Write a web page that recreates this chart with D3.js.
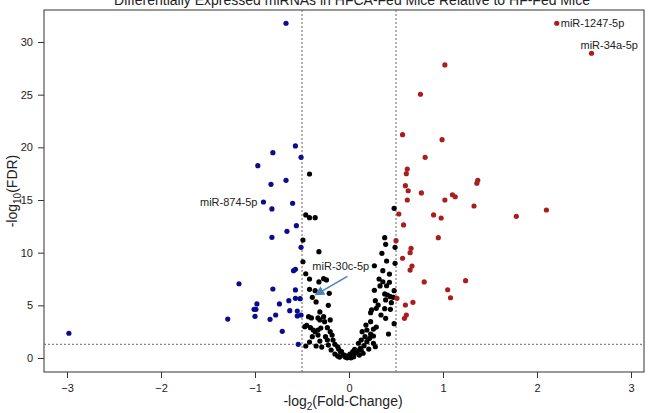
<!DOCTYPE html>
<html>
<head>
<meta charset="utf-8">
<script src="https://cdn.jsdelivr.net/npm/d3@7"></script>
<style>
  body { margin: 0; background: #fff; }
  svg { display: block; font-family: "Liberation Sans", Arial, sans-serif; }
</style>
</head>
<body>
<svg id="chart" width="656" height="413"></svg>
<script>
// [-log2 fold change, -log10 FDR]
const notSignificant = [
  [-0.42,17.47],[-0.46,13.58],[-0.42,13.32],[-0.36,13.32],[-0.49,11.20],[-0.32,10.09],[-0.49,9.14],
  [-0.46,8.00],[-0.42,7.50],[-0.32,7.22],[-0.27,7.53],[-0.24,7.41],[-0.42,6.52],[-0.36,6.39],
  [-0.21,6.14],[-0.39,5.76],[-0.35,5.32],[-0.22,5.00],[-0.31,4.37],[-0.27,3.92],[-0.33,3.80],
  [-0.40,3.80],[-0.43,3.92],[-0.31,3.61],[-0.26,3.45],[-0.20,3.61],[-0.47,2.97],[-0.45,3.10],
  [-0.41,2.88],[-0.38,2.66],[-0.36,2.50],[-0.33,2.66],[-0.30,2.85],[-0.23,2.88],[-0.20,2.50],
  [-0.39,2.02],[-0.33,2.18],[-0.25,2.02],[-0.18,2.18],[-0.23,1.71],[-0.17,1.71],[-0.31,1.61],
  [-0.42,1.52],[-0.46,1.14],[-0.35,1.14],[-0.15,1.30],[-0.29,1.04],[-0.22,1.23],[-0.12,1.07],
  [-0.19,0.76],[-0.11,0.85],[-0.15,0.38],[-0.09,0.57],[-0.12,0.19],[-0.06,0.28],[-0.04,0.09],
  [-0.02,0.02],[0.00,0.09],[0.02,0.02],[0.04,0.12],
  [0.48,14.21],[0.38,11.42],[0.39,10.79],[0.35,9.94],[0.49,10.51],[0.40,9.21],[0.49,8.99],
  [0.27,8.76],[0.36,8.29],[0.43,7.97],[0.32,7.50],[0.36,7.24],[0.43,7.19],[0.33,6.84],
  [0.40,6.86],[0.27,6.43],[0.48,6.39],[0.38,6.08],[0.41,5.98],[0.44,5.82],[0.47,5.76],
  [0.39,5.51],[0.28,5.44],[0.45,5.25],[0.38,4.68],[0.24,4.56],[0.29,4.72],[0.44,4.62],
  [0.23,4.30],[0.39,3.77],[0.23,3.45],[0.48,3.26],[0.29,2.94],[0.26,2.75],[0.14,2.50],
  [0.42,2.28],[0.23,2.28],[0.19,2.66],[0.17,2.02],[0.26,2.09],[0.22,1.87],[0.13,1.71],
  [0.19,1.55],[0.26,1.40],[0.10,1.40],[0.16,1.17],[0.28,1.07],[0.12,0.92],[0.06,0.83],
  [0.21,0.85],[0.15,0.45],[0.04,0.60],[0.01,0.38],[-0.02,0.19],[-0.08,0.60],[-0.05,0.28],
  [0.05,0.12],[-0.01,0.07],[0.31,5.03],[0.34,4.08],[0.18,3.13],[0.07,0.47],[0.11,0.28],
  [-0.10,0.09],[0.09,0.66],[0.13,0.76]
];

const downRegulated = [
  [-0.67,31.78],[-0.57,20.13],[-0.81,19.49],[-0.51,19.05],[-0.97,18.26],[-0.67,16.87],
  [-0.83,16.49],[-0.91,14.81],[-0.60,14.69],[-0.82,14.15],[-0.56,12.56],[-0.66,12.03],
  [-0.82,11.46],[-0.51,10.51],[-0.57,8.42],[-0.59,8.29],[-1.17,7.05],[-0.81,6.55],
  [-0.57,6.46],[-0.52,5.63],[-0.57,5.67],[-0.64,5.44],[-0.74,5.13],[-0.98,5.13],
  [-1.01,4.62],[-0.99,4.62],[-0.63,4.49],[-0.55,4.46],[-1.00,3.96],[-0.78,4.08],
  [-0.84,3.67],[-0.51,4.08],[-0.55,3.99],[-1.29,3.70],[-0.71,2.53],[-0.54,1.30],
  [-2.98,2.35]
];

const upRegulated = [
  [2.21,31.78],[2.58,28.93],[1.02,27.82],[0.76,25.04],[0.57,21.20],[0.99,20.73],
  [0.81,19.05],[0.62,17.94],[0.61,17.50],[0.60,16.36],[0.63,15.88],[0.77,15.67],
  [0.62,15.00],[1.10,15.50],[1.13,15.31],[1.33,14.43],[1.37,16.87],[1.36,16.59],
  [1.02,15.00],[1.78,13.45],[2.10,14.05],[0.53,13.67],[0.90,13.58],[0.98,13.29],
  [0.58,12.63],[0.95,11.42],[0.50,11.14],[0.66,10.41],[0.65,10.00],[0.57,9.47],
  [0.67,8.73],[0.65,8.35],[0.80,7.22],[1.24,7.34],[1.05,6.48],[1.08,5.72],
  [0.51,5.67],[0.68,5.29],[0.60,5.03],[0.61,4.08],[0.59,3.77]
];

const labelNames = ["miR-1247-5p", "miR-34a-5p", "miR-874-5p", "miR-30c-5p"];
const labelPoints = [[2.21,31.78],[2.58,28.93],[-0.91,14.81],[-0.39,5.76]];

const xTicks = [-3, -2, -1, 0, 1, 2, 3];
const yTicks = [0, 5, 10, 15, 20, 25, 30];
const foldCut = 0.5;
const fdrCut = 1.3;

const frame = {left: 44, right: 644, top: 10, bottom: 372};

const svg = d3.select('#chart');

const x = d3.scaleLinear().domain([-3, 3]).range([67, 631]);
const y = d3.scaleLinear().domain([0, 30]).range([358, 42]);

// title (runs off the top edge, as in the original)
svg.append('text')
    .attr('x', 352)
    .attr('y', 5)
    .attr('text-anchor', 'middle')
    .attr('font-size', 14)
    .attr('fill', '#222')
    .text('Differentially Expressed miRNAs in HFCA-Fed Mice Relative to HF-Fed Mice');

// axes
const xAxis = svg.append('g')
    .attr('transform', `translate(0,${frame.bottom})`)
    .call(d3.axisBottom(x).tickValues(xTicks).tickFormat(d3.format('d')).tickSize(6).tickPadding(6));
const yAxis = svg.append('g')
    .attr('transform', `translate(${frame.left},0)`)
    .call(d3.axisLeft(y).tickValues(yTicks).tickFormat(d3.format('d')).tickSize(6).tickPadding(5));

[xAxis, yAxis].forEach(g => {
  g.select('.domain').remove();
  g.selectAll('line').attr('stroke', '#333');
  g.selectAll('text').attr('font-size', 11).attr('fill', '#222')
    .attr('font-family', '"Liberation Sans", Arial, sans-serif');
});

svg.append('rect')
    .attr('x', frame.left)
    .attr('y', frame.top)
    .attr('width', frame.right - frame.left)
    .attr('height', frame.bottom - frame.top)
    .attr('fill', 'none')
    .attr('stroke', '#333');

// cut-off lines
const cutStyle = sel => sel.attr('stroke', '#666').attr('stroke-dasharray', '2,2').attr('stroke-width', 1);
[-foldCut, foldCut].forEach(v => {
  svg.append('line')
      .attr('x1', x(v)).attr('x2', x(v))
      .attr('y1', frame.top).attr('y2', frame.bottom)
      .call(cutStyle);
});
svg.append('line')
    .attr('x1', frame.left).attr('x2', frame.right)
    .attr('y1', y(fdrCut)).attr('y2', y(fdrCut))
    .call(cutStyle);

// points
const drawPoints = (data, colour) => {
  svg.append('g').selectAll('circle')
      .data(data)
      .enter()
      .append('circle')
        .attr('cx', d => x(d[0]))
        .attr('cy', d => y(d[1]))
        .attr('r', 2.6)
        .attr('fill', colour);
};
drawPoints(notSignificant, '#000');
drawPoints(downRegulated, '#0b0b8e');
drawPoints(upRegulated, '#a81e1e');

// point labels
const labelOffsets = [[4, 4], [-11, -4], [-6, 4], [0, -27]];
const labelAnchors = ['start', 'start', 'end', 'start'];
labelNames.forEach((name, i) => {
  const p = labelPoints[i];
  svg.append('text')
      .attr('x', x(p[0]) + labelOffsets[i][0])
      .attr('y', y(p[1]) + labelOffsets[i][1])
      .attr('text-anchor', labelAnchors[i])
      .attr('font-size', 11)
      .attr('fill', '#222')
      .text(name);
});

// arrow to miR-30c-5p
svg.append('defs').append('marker')
    .attr('id', 'arrowHead')
    .attr('viewBox', '0 0 10 10')
    .attr('refX', 8).attr('refY', 5)
    .attr('markerWidth', 6).attr('markerHeight', 6)
    .attr('orient', 'auto')
  .append('path')
    .attr('d', 'M0,0L10,5L0,10Z')
    .attr('fill', '#4f81bd');
const target = labelPoints[3];
svg.append('line')
    .attr('x1', x(target[0]) + 35).attr('y1', y(target[1]) - 21)
    .attr('x2', x(target[0]) + 4).attr('y2', y(target[1]) - 3)
    .attr('stroke', '#4f81bd')
    .attr('stroke-width', 1.6)
    .attr('marker-end', 'url(#arrowHead)');

// axis titles
const xTitle = svg.append('text')
    .attr('x', 343)
    .attr('y', 406)
    .attr('text-anchor', 'middle')
    .attr('font-size', 14)
    .attr('fill', '#222');
xTitle.append('tspan').text('-log');
xTitle.append('tspan').attr('font-size', 10).attr('dy', 4).text('2');
xTitle.append('tspan').attr('dy', -4).text('(Fold-Change)');

const yTitle = svg.append('text')
    .attr('transform', 'translate(17,191) rotate(-90)')
    .attr('text-anchor', 'middle')
    .attr('font-size', 14)
    .attr('fill', '#222');
yTitle.append('tspan').text('-log');
yTitle.append('tspan').attr('font-size', 10).attr('dy', 4).text('10');
yTitle.append('tspan').attr('dy', -4).text('(FDR)');
</script>
</body>
</html>
